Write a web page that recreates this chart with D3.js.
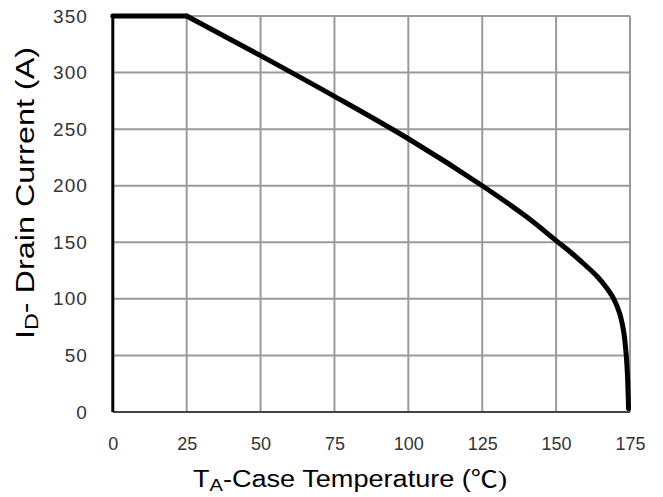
<!DOCTYPE html>
<html><head><meta charset="utf-8">
<script src="https://cdn.jsdelivr.net/npm/d3@7"></script>
<style>body{margin:0;background:#fff}svg{display:block}</style>
</head><body>
<script>
const temps = [0, 25, 50, 75, 100, 125, 140, 150, 155, 160, 164, 167, 169.5, 171.5, 172.8, 173.6, 174.1, 174.4, 174.5];
const current = [350, 350, 315, 279, 241.5, 200, 172.5, 151.5, 141, 129.5, 119.5, 110, 100, 87, 72, 54, 35, 13, 3];
const xTicks = [0, 25, 50, 75, 100, 125, 150, 175];
const yTicks = [0, 50, 100, 150, 200, 250, 300, 350];

const W = 663, H = 497;
const m = {l: 112.8, r: 33, t: 16, b: 85};
const svg = d3.select("body").append("svg").attr("width", W).attr("height", H);
const x = d3.scaleLinear().domain([0, 175]).range([m.l, W - m.r]);
const y = d3.scaleLinear().domain([0, 350]).range([H - m.b, m.t]);

const font = "'Liberation Sans', Arial, sans-serif";

// grid
svg.append("g").selectAll("line").data(xTicks.slice(1)).join("line")
  .attr("x1", d => x(d)).attr("x2", d => x(d)).attr("y1", y(0)).attr("y2", y(350))
  .attr("stroke", "#9a9a9a").attr("stroke-width", 2);
svg.append("g").selectAll("line").data(yTicks.slice(1)).join("line")
  .attr("x1", x(0)).attr("x2", x(175)).attr("y1", d => y(d)).attr("y2", d => y(d))
  .attr("stroke", "#9a9a9a").attr("stroke-width", 2);

// axes lines
svg.append("line").attr("x1", x(0)).attr("x2", x(175)).attr("y1", y(0)).attr("y2", y(0))
  .attr("stroke", "#444").attr("stroke-width", 2);
svg.append("line").attr("x1", x(0)).attr("x2", x(0)).attr("y1", y(0)).attr("y2", y(350))
  .attr("stroke", "#000").attr("stroke-width", 3);

// tick labels via axes
const xAxis = svg.append("g").attr("transform", `translate(0,${y(0)})`)
  .call(d3.axisBottom(x).tickValues(xTicks).tickSize(0).tickPadding(25));
xAxis.select(".domain").remove();
xAxis.selectAll("text").attr("font-family", font).attr("font-size", 18).attr("fill", "#333");

const yAxis = svg.append("g").attr("transform", `translate(${x(0)},0)`)
  .call(d3.axisLeft(y).tickValues(yTicks).tickSize(0).tickPadding(25));
yAxis.select(".domain").remove();
yAxis.selectAll("text").attr("font-family", font).attr("font-size", 19)
  .attr("letter-spacing", 1).attr("fill", "#333");

// curve: flat part linear, derating part smooth
const line = d3.line().x(i => x(temps[i])).y(i => y(current[i]));
svg.append("path").datum([0, 1]).attr("d", line.curve(d3.curveLinear))
  .attr("fill", "none").attr("stroke", "#000").attr("stroke-width", 5).attr("stroke-linecap", "round");
svg.append("path").datum(d3.range(1, temps.length)).attr("d", line.curve(d3.curveCatmullRom.alpha(0.5)))
  .attr("fill", "none").attr("stroke", "#000").attr("stroke-width", 5)
  .attr("stroke-linejoin", "round").attr("stroke-linecap", "round");

// x title
const xt = svg.append("text").attr("x", 350).attr("y", 487).attr("text-anchor", "middle")
  .attr("font-family", font).attr("font-size", 23).attr("fill", "#000")
  .attr("textLength", 314).attr("lengthAdjust", "spacingAndGlyphs");
xt.append("tspan").text("T");
xt.append("tspan").text("A").attr("font-size", 17).attr("dy", 4);
xt.append("tspan").text("-Case Temperature (").attr("dy", -4);
xt.append("tspan").text("℃").attr("font-family", "'Noto Sans CJK SC', serif");
xt.append("tspan").text(")").attr("font-family", "'Liberation Serif', serif");

// y title
const yt = svg.append("text").attr("transform", "translate(34,193) rotate(-90)")
  .attr("text-anchor", "middle").attr("font-family", font).attr("font-size", 25).attr("fill", "#000")
  .attr("textLength", 292).attr("lengthAdjust", "spacingAndGlyphs");
yt.append("tspan").text("I");
yt.append("tspan").text("D").attr("font-size", 18).attr("dy", 4);
yt.append("tspan").text("- Drain Current (A)").attr("dy", -4);
</script>
</body></html>
